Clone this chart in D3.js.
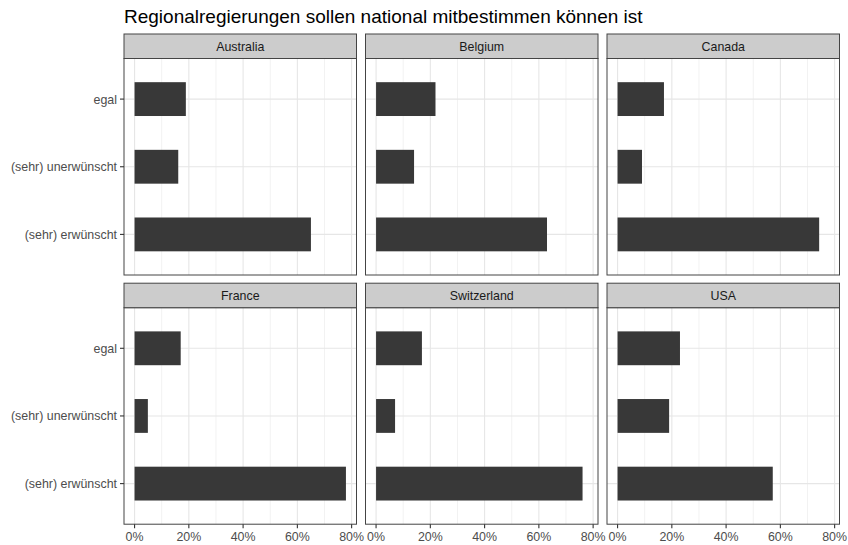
<!DOCTYPE html>
<html>
<head>
<meta charset="utf-8">
<script src="https://cdn.jsdelivr.net/npm/d3@7"></script>
<style>
  html, body { margin: 0; padding: 0; background: #fff; }
  svg { display: block; font-family: "Liberation Sans", Arial, Helvetica, sans-serif; }
</style>
</head>
<body>
<svg id="chart" width="848" height="545"></svg>
<script>
// ---- data ----
const title = "Regionalregierungen sollen national mitbestimmen können ist";
const countries = ["Australia", "Belgium", "Canada", "France", "Switzerland", "USA"];
const categories = ["egal", "(sehr) unerwünscht", "(sehr) erwünscht"]; // top to bottom
const valEgal        = [18.9, 21.9, 17.1, 17.0, 16.9, 23.0];
const valUnerwuenscht = [16.1, 14.0,  9.0,  4.9,  7.0, 19.0];
const valErwuenscht   = [65.0, 63.0, 74.3, 77.9, 76.1, 57.2];
const xTicks = [0, 20, 40, 60, 80];
const xMinor = [10, 30, 50, 70];

// ---- layout ----
const svg = d3.select("#chart");
const plotLeft = 124, plotRight = 839.5;
const gapX = 9;
const ncol = 3;
const panelW = (plotRight - plotLeft - gapX * (ncol - 1)) / ncol;
const stripH = 24.5;
const rowTops = [34, 283.2];
const panelH = 216.5;

const allVals = valEgal.concat(valUnerwuenscht, valErwuenscht);
const M = d3.max(allVals);

const seriesByCat = {
  "egal": valEgal,
  "(sehr) unerwünscht": valUnerwuenscht,
  "(sehr) erwünscht": valErwuenscht
};

// title
svg.append("text")
  .attr("x", 124).attr("y", 23)
  .attr("font-size", 19).attr("fill", "#000")
  .text(title);

const fontSize = 12.4;

countries.forEach((country, ci) => {
  const col = ci % ncol, row = Math.floor(ci / ncol);
  const x0 = plotLeft + col * (panelW + gapX);
  const stripTop = rowTops[row];
  const y0 = stripTop + stripH;

  const x = d3.scaleLinear().domain([-0.05 * M, 1.05 * M]).range([x0, x0 + panelW]);
  const y = d3.scalePoint().domain(categories).range([y0, y0 + panelH]).padding(0.6);
  const step = y.step();
  const barH = step * 0.5;

  const g = svg.append("g");

  g.append("rect").attr("x", x0).attr("y", y0).attr("width", panelW).attr("height", panelH).attr("fill", "#fff");

  // minor grid
  g.selectAll(".minor").data(xMinor).enter().append("line")
    .attr("x1", d => x(d)).attr("x2", d => x(d))
    .attr("y1", y0).attr("y2", y0 + panelH)
    .attr("stroke", "#F2F2F2").attr("stroke-width", 1);
  // major grid
  g.selectAll(".majorx").data(xTicks).enter().append("line")
    .attr("x1", d => x(d)).attr("x2", d => x(d))
    .attr("y1", y0).attr("y2", y0 + panelH)
    .attr("stroke", "#E6E6E6").attr("stroke-width", 1.1);
  g.selectAll(".majory").data(categories).enter().append("line")
    .attr("x1", x0).attr("x2", x0 + panelW)
    .attr("y1", d => y(d)).attr("y2", d => y(d))
    .attr("stroke", "#E6E6E6").attr("stroke-width", 1.1);

  // bars
  g.selectAll(".bar").data(categories).enter().append("rect")
    .attr("x", x(0))
    .attr("y", d => y(d) - barH / 2)
    .attr("width", d => x(seriesByCat[d][ci]) - x(0))
    .attr("height", barH)
    .attr("fill", "#383838");

  // panel border
  g.append("rect").attr("x", x0).attr("y", y0).attr("width", panelW).attr("height", panelH)
    .attr("fill", "none").attr("stroke", "#444").attr("stroke-width", 1);

  // strip
  g.append("rect").attr("x", x0).attr("y", stripTop).attr("width", panelW).attr("height", stripH)
    .attr("fill", "#CCCCCC").attr("stroke", "#444").attr("stroke-width", 1);
  g.append("text")
    .attr("x", x0 + panelW / 2).attr("y", stripTop + stripH / 2)
    .attr("dy", "0.36em").attr("text-anchor", "middle")
    .attr("font-size", fontSize).attr("fill", "#1A1A1A")
    .text(country);

  // y axis (first column)
  if (col === 0) {
    g.selectAll(".ytick").data(categories).enter().append("line")
      .attr("x1", x0 - 4).attr("x2", x0)
      .attr("y1", d => y(d)).attr("y2", d => y(d))
      .attr("stroke", "#333").attr("stroke-width", 1.1);
    g.selectAll(".ylab").data(categories).enter().append("text")
      .attr("x", x0 - 7).attr("y", d => y(d)).attr("dy", "0.36em")
      .attr("text-anchor", "end").attr("font-size", fontSize).attr("fill", "#4D4D4D")
      .text(d => d);
  }

  // x axis (bottom row)
  if (row === 1) {
    const yb = y0 + panelH;
    g.selectAll(".xtick").data(xTicks).enter().append("line")
      .attr("x1", d => x(d)).attr("x2", d => x(d))
      .attr("y1", yb).attr("y2", yb + 4)
      .attr("stroke", "#333").attr("stroke-width", 1.1);
    g.selectAll(".xlab").data(xTicks).enter().append("text")
      .attr("x", d => x(d)).attr("y", yb + 16.5)
      .attr("text-anchor", "middle").attr("font-size", fontSize).attr("fill", "#4D4D4D")
      .text(d => d + "%");
  }
});
</script>
</body>
</html>
